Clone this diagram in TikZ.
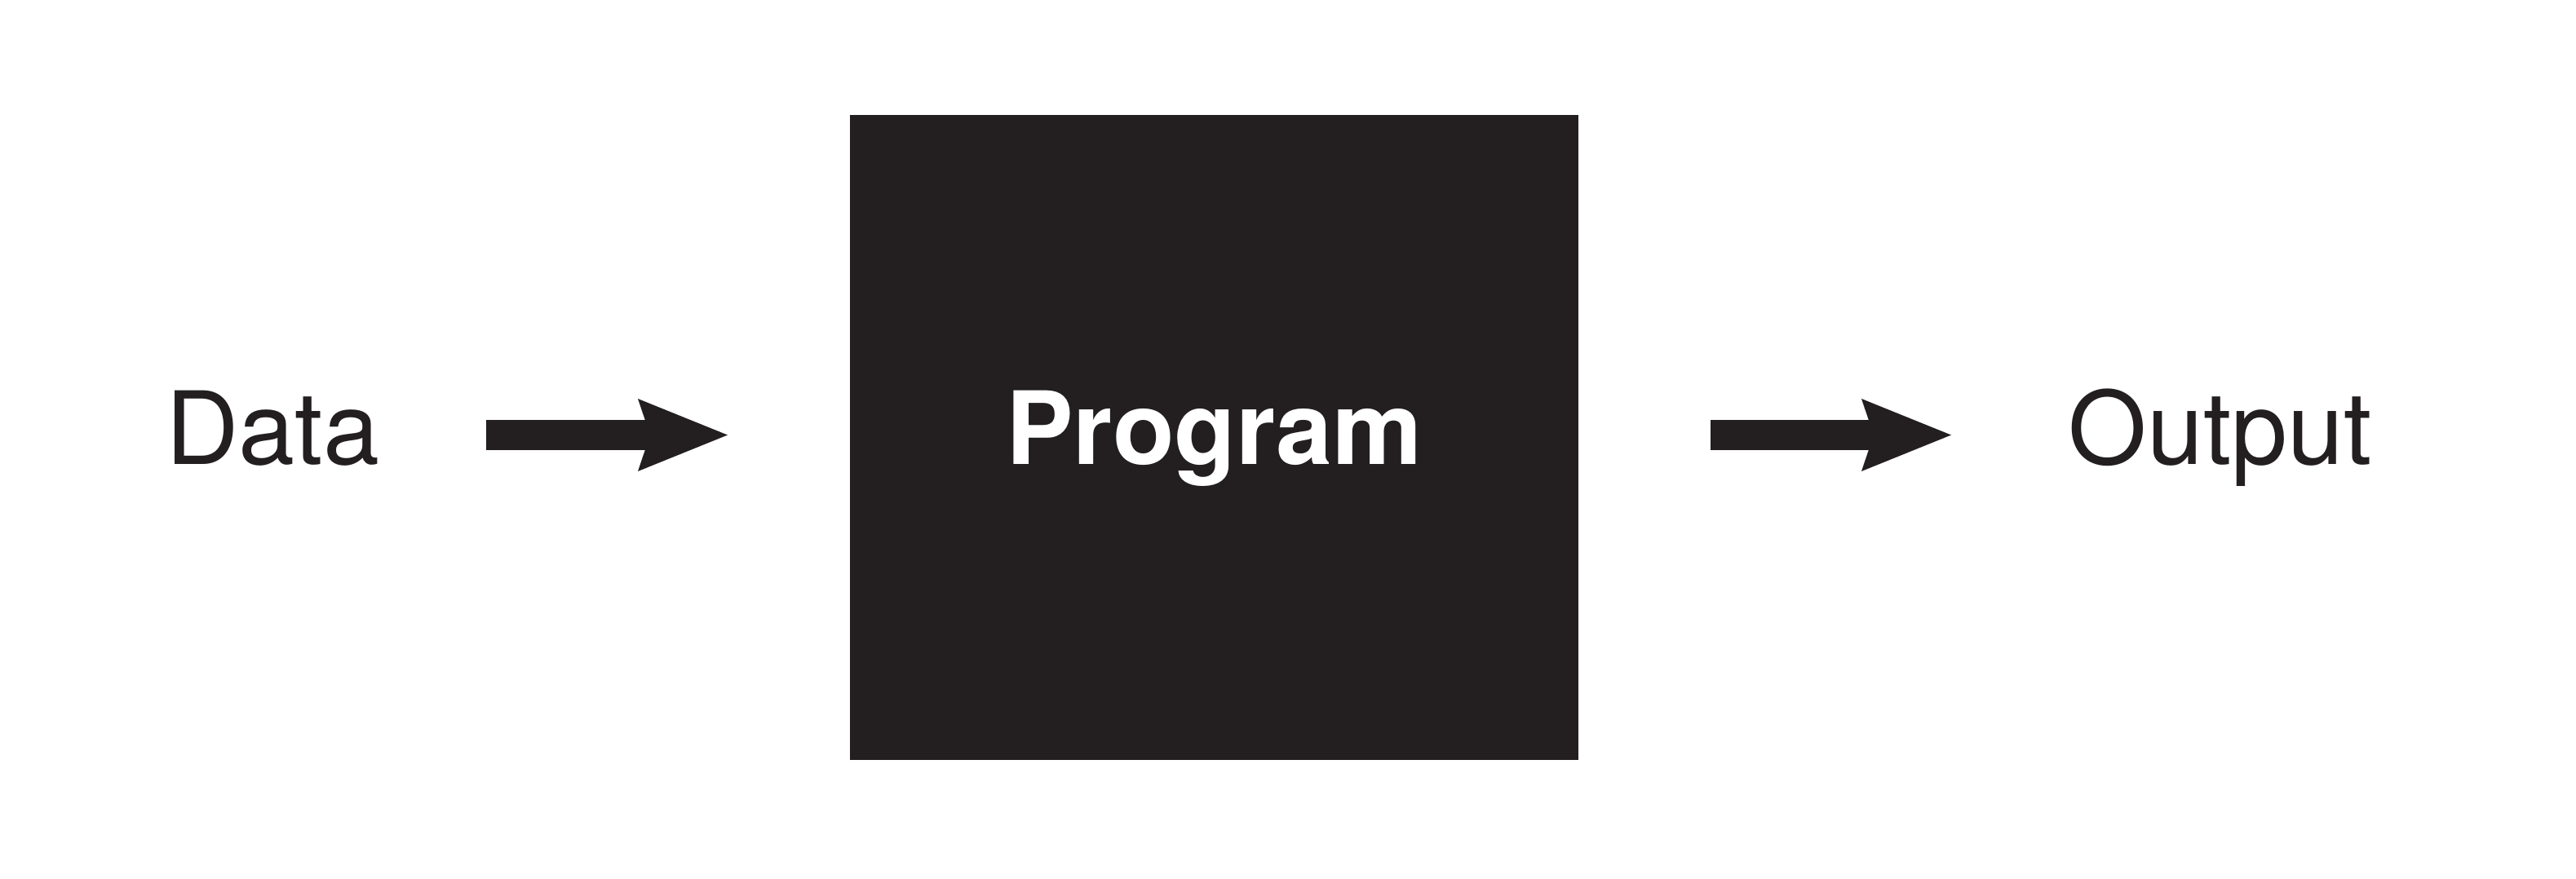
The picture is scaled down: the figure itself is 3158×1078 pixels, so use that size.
\documentclass[tikz,border=0pt]{standalone}
\usepackage{fontspec}
\setmainfont{TeX Gyre Heros}
\usetikzlibrary{arrows.meta}
\definecolor{ink}{HTML}{231F20}
\begin{document}
\begin{tikzpicture}[x=0.25pt,y=-0.25pt,
  lbl/.style={anchor=base,inner sep=0pt,text=ink,font=\fontsize{31}{38}\selectfont},
  blk/.style={fill=ink,draw=none,inner sep=0pt,minimum width=223.25pt,minimum height=197.75pt},
  fatarrow/.style={draw=ink,line width=9.25pt,
    -{Stealth[length=27.5pt,width=22.25pt,inset=3.75pt,line width=0pt,color=ink]}}]
\useasboundingbox (0,0) rectangle (3158,1078);
\node[blk] (box) at (1488.5,536.5) {};
\node[lbl] (data) at (334,570) {Data};
\node[lbl,text=white,font=\fontsize{31}{38}\selectfont\bfseries] (prog) at (1488.5,570) {Program};
\node[lbl] (out) at (2722,570) {Output};
\coordinate (a1s) at (596,533.5);
\coordinate (a1e) at (892,533.5);
\coordinate (a2s) at (2097,533.5);
\coordinate (a2e) at (2392,533.5);
\draw[fatarrow] (a1s) -- (a1e);
\draw[fatarrow] (a2s) -- (a2e);
\end{tikzpicture}
\end{document}
